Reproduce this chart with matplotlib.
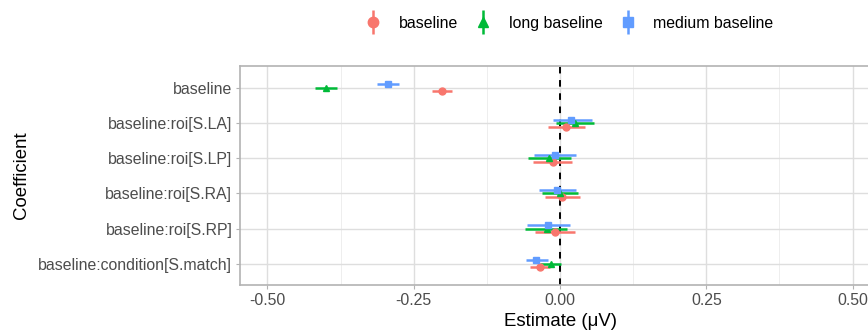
import numpy as np
import matplotlib
matplotlib.use("Agg")
import matplotlib.pyplot as plt
from matplotlib.lines import Line2D
from matplotlib.legend_handler import HandlerTuple

plt.rcParams['font.family'] = ['Liberation Sans', 'DejaVu Sans']

# coefficient names, bottom row first
terms = ['baseline:condition[S.match]', 'baseline:roi[S.RP]', 'baseline:roi[S.RA]',
         'baseline:roi[S.LP]', 'baseline:roi[S.LA]', 'baseline']

# estimates and interval bounds per model
base_est = [-0.035, -0.009, 0.003, -0.012, 0.011, -0.202]
base_lo = [-0.052, -0.043, -0.026, -0.047, -0.020, -0.219]
base_hi = [-0.017, 0.025, 0.034, 0.021, 0.042, -0.185]

long_est = [-0.016, -0.023, 0.000, -0.019, 0.026, -0.400]
long_lo = [-0.034, -0.059, -0.031, -0.055, -0.006, -0.418]
long_hi = [0.002, 0.012, 0.031, 0.019, 0.058, -0.381]

med_est = [-0.041, -0.020, -0.005, -0.008, 0.019, -0.294]
med_lo = [-0.058, -0.056, -0.036, -0.045, -0.012, -0.312]
med_hi = [-0.021, 0.017, 0.028, 0.028, 0.054, -0.275]

models = [
    ('baseline', base_est, base_lo, base_hi, '#F8766D', 'o', -0.1),
    ('long baseline', long_est, long_lo, long_hi, '#00BA38', '^', 0.0),
    ('medium baseline', med_est, med_lo, med_hi, '#619CFF', 's', 0.1),
]

fig = plt.figure(figsize=(8.68, 3.33), dpi=100)
ax = fig.add_axes([240 / 868, 48 / 333, 640 / 868, 219 / 333])

ypos = np.arange(1, len(terms) + 1)

# grid (ggplot theme_light look)
for v in [-0.375, -0.125, 0.125, 0.375]:
    ax.axvline(v, color='#EBEBEB', lw=0.6, zorder=0)
for v in [-0.5, -0.25, 0, 0.25, 0.5]:
    ax.axvline(v, color='#DEDEDE', lw=1.0, zorder=0)
for y in ypos:
    ax.axhline(y, color='#DEDEDE', lw=1.0, zorder=0)

ax.axvline(0, color='black', lw=1.4, ls=(0, (3.4, 3.4)), zorder=1)

handles = []
for name, est, lo, hi, col, mk, off in models:
    yy = ypos + off
    ax.hlines(yy, lo, hi, color=col, lw=1.8, zorder=3)
    ax.plot(est, yy, ls='none', marker=mk, color=col, ms=5, zorder=4)
    h = (Line2D([], [], ls='none', marker='|', color=col, ms=17, mew=1.8),
         Line2D([], [], ls='none', marker=mk, color=col, ms=7.5))
    handles.append(h)

ax.set_xlim(-0.547, 0.547)
ax.set_ylim(0.4, 6.62)
ax.set_xticks([-0.5, -0.25, 0, 0.25, 0.5])
ax.set_xticklabels(['-0.50', '-0.25', '0.00', '0.25', '0.50'])
ax.set_yticks(ypos)
ax.set_yticklabels(terms)
ax.tick_params(axis='both', colors='#B3B3B3', length=3, width=0.8, labelsize=11.4,
               labelcolor='#4D4D4D', pad=2.5)

for s in ax.spines.values():
    s.set_color('#B3B3B3')
    s.set_linewidth(1.2)

ax.set_xlabel('Estimate (μV)', fontsize=13.4, labelpad=3.5)
ax.set_ylabel('Coefficient', fontsize=13.4, labelpad=6)

fig.legend(handles, [m[0] for m in models], handler_map={tuple: HandlerTuple(ndivide=1)},
           loc='center', bbox_to_anchor=(0.655, 0.93), ncol=3, frameon=False,
           fontsize=11.4, handlelength=1.2, columnspacing=1.0, handletextpad=1.0)

fig.savefig('out.png', dpi=100)
